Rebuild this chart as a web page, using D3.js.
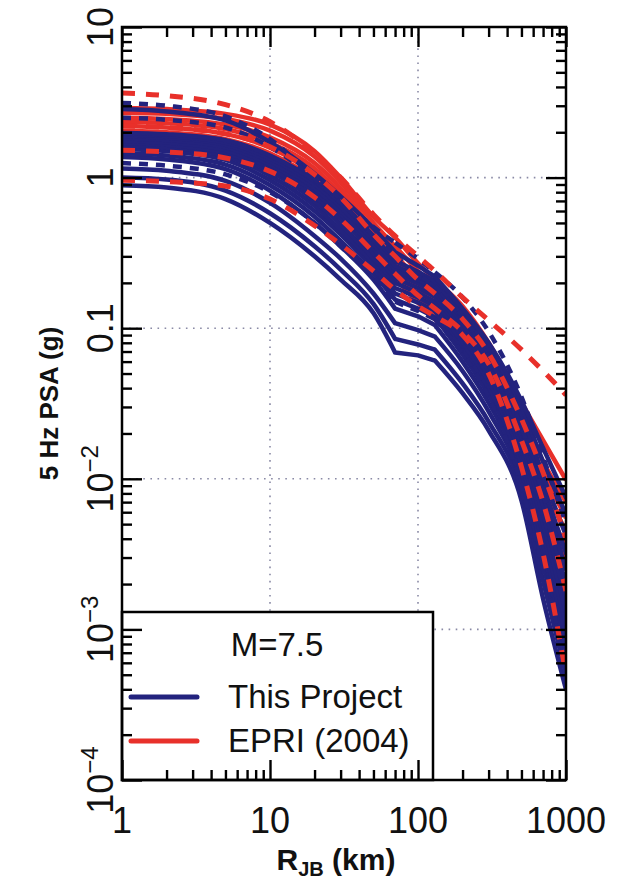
<!DOCTYPE html>
<html>
<head>
<meta charset="utf-8">
<script src="https://cdn.jsdelivr.net/npm/d3@7"></script>
<style>
  html, body { margin: 0; padding: 0; background: #ffffff; }
  svg { display: block; }
</style>
</head>
<body>
<svg id="chart" width="632" height="889"></svg>
<script>
// Joyner-Boore distances (km) at which every curve is tabulated
const distances = [1, 2, 5, 10, 20, 30, 50, 70, 100, 130, 200, 300, 500, 700, 1000];

// 5 Hz PSA (g), This Project, solid curves
const projectSolid = [
  [0.89, 0.86, 0.72, 0.50, 0.30, 0.21, 0.126, 0.069, 0.066, 0.061, 0.037, 0.021, 0.0072, 0.0016, 0.0004],
  [1.00, 0.97, 0.82, 0.58, 0.35, 0.245, 0.145, 0.085, 0.078, 0.072, 0.043, 0.024, 0.0085, 0.0021, 0.0005],
  [1.15, 1.11, 0.95, 0.68, 0.41, 0.29, 0.17, 0.108, 0.097, 0.088, 0.052, 0.028, 0.0098, 0.0027, 0.0006],
  [1.37, 1.32, 1.14, 0.82, 0.50, 0.35, 0.21, 0.135, 0.12, 0.105, 0.060, 0.032, 0.011, 0.0032, 0.0007],
  [1.45, 1.40, 1.22, 0.89, 0.55, 0.38, 0.23, 0.155, 0.135, 0.118, 0.067, 0.036, 0.0125, 0.0037, 0.0009],
  [1.55, 1.50, 1.31, 0.96, 0.60, 0.42, 0.25, 0.17, 0.148, 0.13, 0.074, 0.040, 0.014, 0.0043, 0.0011],
  [1.63, 1.58, 1.39, 1.03, 0.65, 0.45, 0.27, 0.185, 0.16, 0.14, 0.080, 0.044, 0.0155, 0.0050, 0.0013],
  [1.70, 1.65, 1.46, 1.10, 0.70, 0.49, 0.29, 0.20, 0.172, 0.15, 0.087, 0.048, 0.017, 0.0058, 0.0016],
  [1.75, 1.71, 1.52, 1.16, 0.75, 0.53, 0.315, 0.215, 0.185, 0.162, 0.094, 0.052, 0.019, 0.0067, 0.0020],
  [1.82, 1.78, 1.59, 1.22, 0.80, 0.57, 0.34, 0.23, 0.198, 0.173, 0.100, 0.057, 0.021, 0.0078, 0.0025],
  [1.88, 1.84, 1.65, 1.28, 0.85, 0.60, 0.36, 0.245, 0.21, 0.183, 0.107, 0.062, 0.0235, 0.0090, 0.0032],
  [1.93, 1.89, 1.71, 1.34, 0.90, 0.64, 0.385, 0.26, 0.222, 0.193, 0.115, 0.068, 0.027, 0.0105, 0.0042],
  [1.98, 1.94, 1.77, 1.40, 0.95, 0.68, 0.41, 0.28, 0.237, 0.205, 0.124, 0.074, 0.030, 0.013, 0.0058],
  [2.85, 2.75, 2.40, 1.72, 1.06, 0.75, 0.46, 0.32, 0.26, 0.22, 0.135, 0.080, 0.033, 0.016, 0.0075]
];

// 5 Hz PSA (g), This Project, dashed curves
const projectDashed = [
  [3.13, 3.00, 2.55, 1.80, 1.00, 0.72, 0.47, 0.37, 0.29, 0.235, 0.16, 0.095, 0.035, 0.014, 0.005],
  [2.50, 2.42, 2.15, 1.60, 0.98, 0.68, 0.42, 0.30, 0.23, 0.19, 0.12, 0.065, 0.022, 0.008, 0.0025],
  [1.25, 1.20, 1.05, 0.80, 0.50, 0.35, 0.22, 0.15, 0.13, 0.115, 0.068, 0.035, 0.009, 0.0025, 0.0006]
];

// 5 Hz PSA (g), EPRI (2004), solid curves
const epriSolid = [
  [2.90, 2.85, 2.65, 2.25, 1.50, 1.00, 0.55, 0.40, 0.27, 0.21, 0.14, 0.080, 0.032, 0.018, 0.0098],
  [2.70, 2.65, 2.45, 2.05, 1.38, 0.93, 0.50, 0.35, 0.24, 0.185, 0.122, 0.070, 0.026, 0.013, 0.0070],
  [2.50, 2.45, 2.25, 1.85, 1.25, 0.85, 0.45, 0.31, 0.21, 0.165, 0.108, 0.062, 0.022, 0.011, 0.0055],
  [2.35, 2.30, 2.10, 1.70, 1.15, 0.78, 0.41, 0.28, 0.19, 0.15, 0.098, 0.056, 0.019, 0.009, 0.0045],
  [2.20, 2.15, 1.95, 1.58, 1.05, 0.71, 0.37, 0.255, 0.175, 0.138, 0.090, 0.050, 0.017, 0.0075, 0.0035],
  [2.05, 2.00, 1.80, 1.45, 0.96, 0.65, 0.34, 0.235, 0.16, 0.125, 0.082, 0.045, 0.015, 0.0065, 0.0030],
  [1.92, 1.87, 1.68, 1.32, 0.88, 0.60, 0.31, 0.215, 0.148, 0.115, 0.075, 0.041, 0.013, 0.0055, 0.0025]
];

// 5 Hz PSA (g), EPRI (2004), dashed curves
const epriDashed = [
  [3.64, 3.50, 3.05, 2.35, 1.45, 1.00, 0.57, 0.41, 0.30, 0.24, 0.16, 0.113, 0.072, 0.052, 0.036],
  [2.20, 2.15, 1.95, 1.60, 1.05, 0.74, 0.42, 0.30, 0.21, 0.17, 0.115, 0.068, 0.025, 0.011, 0.004],
  [1.52, 1.48, 1.35, 1.10, 0.74, 0.53, 0.32, 0.23, 0.165, 0.135, 0.095, 0.058, 0.018, 0.007, 0.0018],
  [0.96, 0.94, 0.88, 0.72, 0.48, 0.36, 0.24, 0.18, 0.14, 0.12, 0.090, 0.050, 0.012, 0.0032, 0.0005]
];

const xTickValues = [1, 10, 100, 1000];
const xTickLabels = ["1", "10", "100", "1000"];
const yTickValues = [1e-4, 1e-3, 1e-2, 0.1, 1, 10];
const yTickBases = ["10", "10", "10", "0.1", "1", "10"];
const yTickExponents = ["\u22124", "\u22123", "\u22122", "", "", ""];
const xGridValues = [10, 100];
const yGridValues = [1e-3, 1e-2, 0.1, 1];

const legendTitle = "M=7.5";
const legendNames = ["This Project", "EPRI (2004)"];

const BLUE = "#23237e";
const RED = "#e8302a";
const FONT = "Liberation Sans, Arial, Helvetica, sans-serif";

const svg = d3.select("#chart");
const plot = { left: 122, right: 566, top: 27, bottom: 780 };

const x = d3.scaleLog().domain([1, 1000]).range([plot.left, plot.right]);
const y = d3.scaleLog().domain([1e-4, 10]).range([plot.bottom, plot.top]);

svg.append("rect").attr("width", 632).attr("height", 889).attr("fill", "#ffffff");

svg.append("defs").append("clipPath").attr("id", "plot-clip")
  .append("rect")
  .attr("x", plot.left).attr("y", plot.top)
  .attr("width", plot.right - plot.left).attr("height", plot.bottom - plot.top);

// dotted grid at the decades
const grid = svg.append("g")
  .attr("stroke", "#8a8aa6").attr("stroke-width", 1.6)
  .attr("stroke-dasharray", "1.6,5.5").attr("fill", "none");
grid.selectAll("line.gx").data(xGridValues).join("line")
  .attr("x1", d => x(d)).attr("x2", d => x(d))
  .attr("y1", plot.top).attr("y2", plot.bottom);
grid.selectAll("line.gy").data(yGridValues).join("line")
  .attr("x1", plot.left).attr("x2", plot.right)
  .attr("y1", d => y(d)).attr("y2", d => y(d));

// EPRI curves are smooth; the project curves bend sharply at 70 and 130 km,
// so they are drawn as smooth near/far pieces joined by straight segments.
const smooth = d3.line()
  .x(d => x(d[0])).y(d => y(d[1]))
  .curve(d3.curveMonotoneX);
const straight = d3.line()
  .x(d => x(d[0])).y(d => y(d[1]));

const pairs = vals => vals.map((v, i) => [distances[i], v]);
const i70 = distances.indexOf(70);
const i130 = distances.indexOf(130);
const kinkedPath = vals => {
  const p = pairs(vals);
  return smooth(p.slice(0, i70 + 1)) + straight(p.slice(i70, i130 + 1)) + smooth(p.slice(i130));
};
const smoothPath = vals => smooth(pairs(vals));

const curves = svg.append("g").attr("clip-path", "url(#plot-clip)")
  .attr("fill", "none").attr("stroke-linejoin", "round");

curves.append("g").selectAll("path").data(epriSolid).join("path")
  .attr("d", smoothPath).attr("stroke", RED).attr("stroke-width", 4.5);

curves.append("g").selectAll("path").data(projectSolid).join("path")
  .attr("d", kinkedPath).attr("stroke", BLUE).attr("stroke-width", 4.5)
  .attr("stroke-linecap", "round");

curves.append("g").selectAll("path").data(projectDashed).join("path")
  .attr("d", kinkedPath).attr("stroke", BLUE).attr("stroke-width", 4.5)
  .attr("stroke-dasharray", "9,8");

curves.append("g").selectAll("path").data(epriDashed).join("path")
  .attr("d", smoothPath).attr("stroke", RED).attr("stroke-width", 5)
  .attr("stroke-dasharray", "13,11");

// legend box, opaque over the grid
const legend = svg.append("g");
legend.append("rect")
  .attr("x", plot.left).attr("y", 612)
  .attr("width", 433 - plot.left).attr("height", plot.bottom - 612)
  .attr("fill", "#ffffff").attr("stroke", "#000").attr("stroke-width", 2.5);
legend.append("text")
  .attr("x", 277).attr("y", 656).attr("text-anchor", "middle")
  .attr("font-family", FONT).attr("font-size", 33)
  .attr("fill", "#111").text(legendTitle);
const legendColors = [BLUE, RED];
const legendY = [697, 741];
legendNames.forEach((name, i) => {
  legend.append("line")
    .attr("x1", 131).attr("x2", 197)
    .attr("y1", legendY[i]).attr("y2", legendY[i])
    .attr("stroke", legendColors[i]).attr("stroke-width", 5)
    .attr("stroke-linecap", "round");
  legend.append("text")
    .attr("x", 228).attr("y", legendY[i] + 11)
    .attr("font-family", FONT).attr("font-size", 33)
    .attr("fill", "#111").text(name);
});

// axes: ticks point into the plot on all four sides
const minorX = x.ticks().filter(v => !xTickValues.includes(v));
const minorY = y.ticks().filter(v => !yTickValues.some(m => Math.abs(m - v) / m < 1e-9));

function styleAxis(g) {
  g.select(".domain").remove();
  g.selectAll(".tick line").attr("stroke", "#000").attr("stroke-width", 2.4);
  g.selectAll(".tick text").remove();
}

const sides = [
  [() => d3.axisTop(x), `translate(0,${plot.top})`, xTickValues, minorX],
  [() => d3.axisBottom(x), `translate(0,${plot.bottom})`, xTickValues, minorX],
  [() => d3.axisLeft(y), `translate(${plot.left},0)`, yTickValues, minorY],
  [() => d3.axisRight(y), `translate(${plot.right},0)`, yTickValues, minorY]
];
const axes = svg.append("g");
sides.forEach(([make, tr, major, minor]) => {
  axes.append("g").attr("transform", tr)
    .call(make().tickValues(major).tickSizeInner(-20).tickSizeOuter(0).tickFormat(() => ""))
    .call(styleAxis);
  axes.append("g").attr("transform", tr)
    .call(make().tickValues(minor).tickSizeInner(-10).tickSizeOuter(0).tickFormat(() => ""))
    .call(styleAxis);
});

// plot frame
svg.append("rect")
  .attr("x", plot.left).attr("y", plot.top)
  .attr("width", plot.right - plot.left).attr("height", plot.bottom - plot.top)
  .attr("fill", "none").attr("stroke", "#000").attr("stroke-width", 2.5);

// x tick labels
svg.append("g").selectAll("text").data(xTickValues).join("text")
  .attr("x", d => x(d)).attr("y", 833)
  .attr("text-anchor", "middle")
  .attr("font-family", FONT).attr("font-size", 36)
  .attr("fill", "#111")
  .text((d, i) => xTickLabels[i]);

// y tick labels, rotated
const yLabels = svg.append("g").selectAll("text").data(yTickValues).join("text")
  .attr("transform", d => `translate(113,${y(d)}) rotate(-90)`)
  .attr("text-anchor", "middle")
  .attr("font-family", FONT).attr("font-size", 36)
  .attr("fill", "#111");
yLabels.append("tspan").text((d, i) => yTickBases[i]);
yLabels.append("tspan")
  .attr("font-size", 24).attr("dy", -15)
  .text((d, i) => yTickExponents[i]);

// axis titles
svg.append("text")
  .attr("transform", `translate(58,${(plot.top + plot.bottom) / 2}) rotate(-90)`)
  .attr("text-anchor", "middle")
  .attr("font-family", FONT).attr("font-size", 26)
  .attr("font-weight", "bold").attr("fill", "#111")
  .text("5 Hz PSA (g)");

const xt = svg.append("text")
  .attr("x", 336).attr("y", 870)
  .attr("text-anchor", "middle")
  .attr("font-family", FONT).attr("font-size", 30)
  .attr("font-weight", "bold").attr("fill", "#111");
xt.append("tspan").text("R");
xt.append("tspan").attr("font-size", 20).attr("dy", 6).text("JB");
xt.append("tspan").attr("dy", -6).text(" (km)");
</script>
</body>
</html>
